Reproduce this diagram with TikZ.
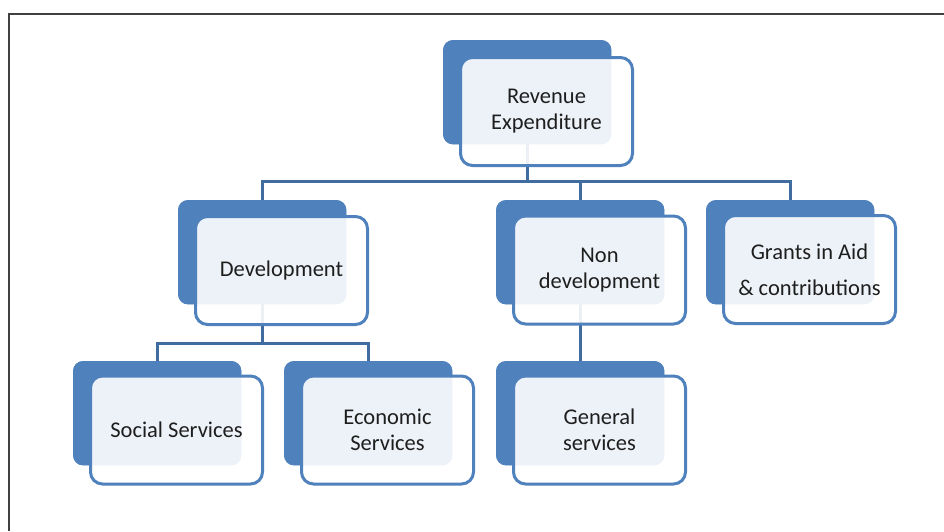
\documentclass[tikz,border=0pt]{standalone}
\usepackage{fontspec}
\setmainfont{Carlito}
\begin{document}
\definecolor{accent}{RGB}{79,129,189}
\definecolor{linkblue}{RGB}{65,108,160}
\definecolor{txt}{RGB}{30,30,30}
\begin{tikzpicture}[x=1pt,y=-1pt,
  backbox/.style={fill=accent, rounded corners=10pt, inner sep=0pt,
    minimum width=168pt, minimum height=104pt, anchor=north west},
  frontbox/.style={draw=accent, line width=3pt, fill=white, fill opacity=0.9,
    text opacity=1, rounded corners=12pt, inner sep=0pt,
    minimum width=172pt, minimum height=108pt, align=center, text=txt,
    font=\fontsize{22.5}{26}\selectfont},
  link/.style={draw=linkblue, line width=3pt},
  frameline/.style={draw=black!75, line width=1.3pt}]
\useasboundingbox[fill=white] (0,0) rectangle (944,531);
\draw[frameline] (944,14) -- (9,14) -- (9,531);

% back (shadow) boxes
\node[backbox] (revB) at (443,40) {};
\node[backbox] (devB) at (178,200) {};
\node[backbox] (nonB) at (496,200) {};
\node[backbox] (grB) at (706,200) {};
\node[backbox] (socB) at (73,361) {};
\node[backbox] (ecoB) at (284,361) {};
\node[backbox] (genB) at (496,361) {};

% connectors
\coordinate (bus1) at (0,181);
\coordinate (bus2) at (0,343);
\draw[link] (revB.south) -- (revB.south |- bus1) -| (devB.north);
\draw[link] (revB.south |- bus1) -| (nonB.north);
\draw[link] (revB.south |- bus1) -| (grB.north);
\draw[link] (devB.south) -- (devB.south |- bus2) -| (socB.north);
\draw[link] (devB.south |- bus2) -| (ecoB.north);
\draw[link] (nonB.south) -- (genB.north);

% redraw back boxes over connector ends
\foreach \b in {revB,devB,nonB,grB,socB,ecoB,genB}{
  \fill[accent, rounded corners=10pt] (\b.north west) rectangle (\b.south east);
}

% front boxes with labels
\node[frontbox] (rev) at (546.5,111.5) {Revenue\\Expenditure};
\node[frontbox] (dev) at (281.5,270.5) {Development};
\node[frontbox] (non) at (599.5,270) {Non\\development};
\node[frontbox, font=\fontsize{22.5}{36}\selectfont] (gr) at (809.5,269.5) {Grants in Aid\\\& contributions};
\node[frontbox] (soc) at (176.5,430) {Social Services};
\node[frontbox] (eco) at (387.5,430) {Economic\\Services};
\node[frontbox] (gen) at (599.5,430) {General\\services};
\end{tikzpicture}
\end{document}
